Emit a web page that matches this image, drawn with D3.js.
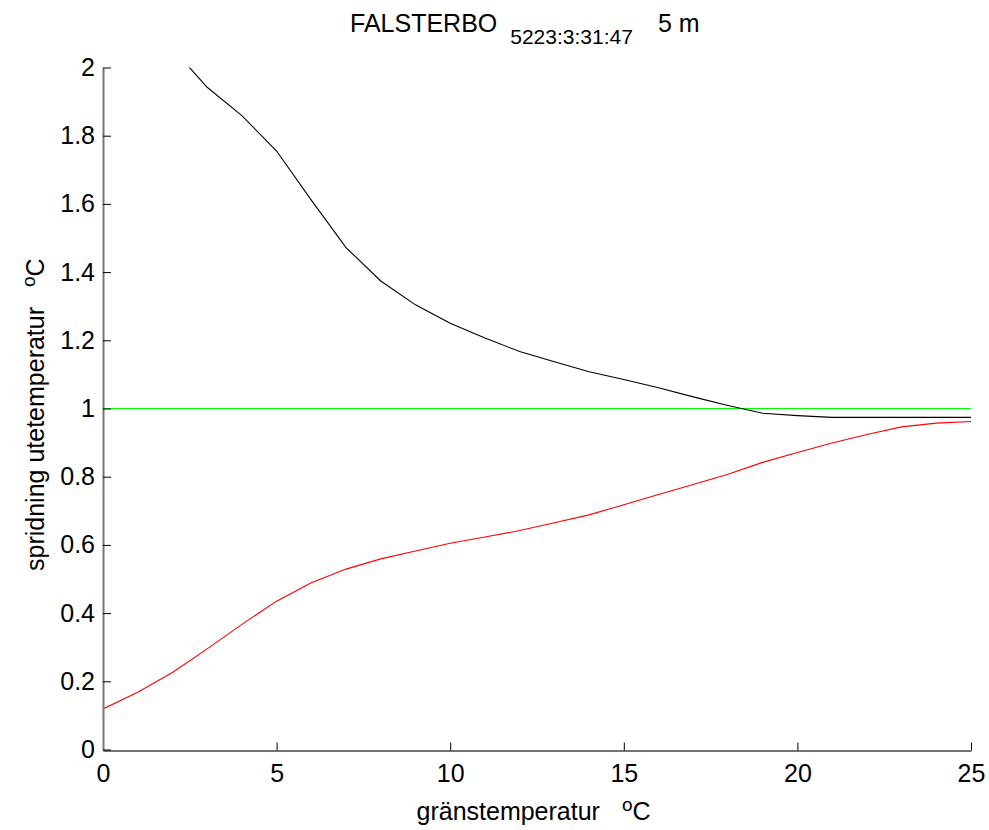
<!DOCTYPE html>
<html>
<head>
<meta charset="utf-8">
<script src="https://cdn.jsdelivr.net/npm/d3@7"></script>
<style>
  html, body { margin: 0; padding: 0; background: #fff; }
  svg { display: block; font-family: "Liberation Sans", Arial, Helvetica, sans-serif; }
</style>
</head>
<body>
<svg id="chart" width="989" height="830"></svg>
<script>
// ---- data ----
const upperX = [2, 3, 4, 5, 6, 7, 8, 9, 10, 11, 12, 13, 14, 15, 16, 17, 18, 19, 20, 21, 22, 23, 24, 25];
const upperY = [2.056, 1.942, 1.859, 1.755, 1.611, 1.472, 1.374, 1.304, 1.250, 1.207, 1.167, 1.137, 1.108, 1.085, 1.061, 1.034, 1.009, 0.986, 0.979, 0.974, 0.974, 0.974, 0.974, 0.974];
const lowerX = [0, 1, 2, 3, 4, 5, 6, 7, 8, 9, 10, 11, 12, 13, 14, 15, 16, 17, 18, 19, 20, 21, 22, 23, 24, 25];
const lowerY = [0.119, 0.168, 0.226, 0.295, 0.367, 0.435, 0.489, 0.529, 0.559, 0.582, 0.605, 0.623, 0.642, 0.665, 0.688, 0.718, 0.748, 0.777, 0.807, 0.842, 0.871, 0.899, 0.924, 0.946, 0.957, 0.962];
const refX = [0, 25];
const refY = [1, 1];
const xTicks = [0, 5, 10, 15, 20, 25];
const yTicks = [0, 0.2, 0.4, 0.6, 0.8, 1, 1.2, 1.4, 1.6, 1.8, 2];
const titleMain = "FALSTERBO";
const titleSub = "5223:3:31:47";
const titleTail = "5 m";
const xLabel = "gränstemperatur";
const yLabel = "spridning utetemperatur";

// ---- layout ----
const svg = d3.select("#chart");
const mLeft = 103, mRight = 971, mTop = 67.5, mBottom = 749.5;
const FS = 25;

const x = d3.scaleLinear().domain([0, 25]).range([mLeft, mRight]);
const y = d3.scaleLinear().domain([0, 2]).range([mBottom, mTop]);

svg.append("defs").append("clipPath").attr("id", "clip")
  .append("rect").attr("x", mLeft).attr("y", mTop).attr("width", mRight - mLeft).attr("height", mBottom - mTop);

const line = d3.line().x(d => x(d[0])).y(d => y(d[1]));
const g = svg.append("g").attr("clip-path", "url(#clip)");

g.append("path").datum(refX.map((v, i) => [v, refY[i]]))
  .attr("d", line).attr("fill", "none").attr("stroke", "#00ff00").attr("stroke-width", 1);
g.append("path").datum(upperX.map((v, i) => [v, upperY[i]]))
  .attr("d", line).attr("fill", "none").attr("stroke", "#000").attr("stroke-width", 1.1);
g.append("path").datum(lowerX.map((v, i) => [v, lowerY[i]]))
  .attr("d", line).attr("fill", "none").attr("stroke", "#ff0000").attr("stroke-width", 1.1);

// ---- axes ----
const xAxis = d3.axisBottom(x).tickValues(xTicks).tickSizeInner(-8).tickSizeOuter(0).tickPadding(14)
  .tickFormat(d3.format("d"));
const gx = svg.append("g").attr("transform", `translate(0,${mBottom + 1})`).call(xAxis);
gx.select(".domain").attr("stroke", "#444").attr("stroke-width", 1.5);
gx.selectAll(".tick line").attr("stroke", "#000");
gx.selectAll(".tick text").attr("font-size", FS).attr("fill", "#000")
  .attr("font-family", "Liberation Sans, Arial, sans-serif");

const yAxis = d3.axisLeft(y).tickValues(yTicks).tickSizeInner(-8).tickSizeOuter(0).tickPadding(8)
  .tickFormat(d => d3.format("")(+d.toFixed(1)));
const gy = svg.append("g").attr("transform", `translate(${mLeft},0)`).call(yAxis);
gy.select(".domain").attr("stroke", "#777").attr("stroke-width", 2);
gy.selectAll(".tick line").attr("stroke", "#000");
gy.selectAll(".tick text").attr("font-size", FS).attr("fill", "#000")
  .attr("font-family", "Liberation Sans, Arial, sans-serif");

// ---- title ----
const title = svg.append("text").attr("x", 350).attr("y", 32).attr("font-size", FS).attr("fill", "#000");
title.append("tspan").text(titleMain);
title.append("tspan").attr("dx", 13).attr("dy", 12).attr("font-size", 21).text(titleSub);
title.append("tspan").attr("dx", 25).attr("dy", -12).text(titleTail);

// ---- x label ----
const xl = svg.append("text").attr("x", 416.5).attr("y", 820).attr("font-size", FS).attr("fill", "#000");
xl.append("tspan").text(xLabel);
xl.append("tspan").attr("dx", 22).attr("dy", -9).attr("font-size", 19).text("o");
xl.append("tspan").attr("dy", 9).text("C");

// ---- y label ----
const yl = svg.append("text").attr("transform", "translate(44,571) rotate(-90)").attr("font-size", FS).attr("fill", "#000");
yl.append("tspan").text(yLabel);
yl.append("tspan").attr("dx", 20).attr("dy", -9).attr("font-size", 19).text("o");
yl.append("tspan").attr("dy", 9).text("C");
</script>
</body>
</html>
